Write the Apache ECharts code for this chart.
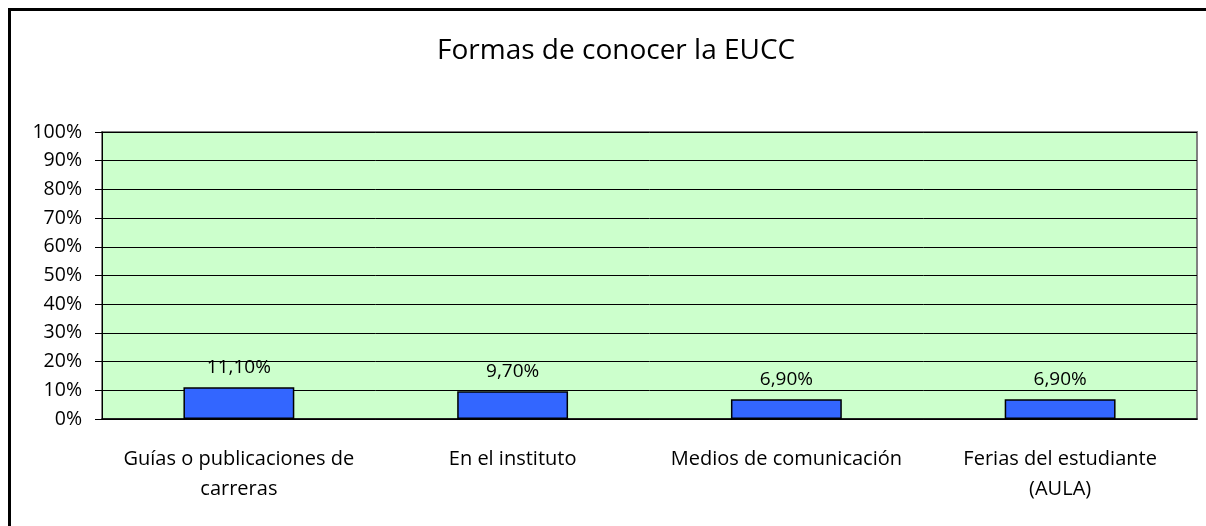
<!DOCTYPE html>
<html>
<head>
<meta charset="utf-8">
<script src="https://cdn.jsdelivr.net/npm/echarts@6/dist/echarts.min.js"></script>
<style>
  html, body { margin: 0; padding: 0; background: #fff; }
  #chart { width: 1206px; height: 526px; }
</style>
</head>
<body>
<div id="chart"></div>
<script>
// chart data
const categories = ['Guías o publicaciones de\ncarreras', 'En el instituto', 'Medios de comunicación', 'Ferias del estudiante\n(AULA)'];
const values = [11.1, 9.7, 6.9, 6.9];
const yTicks = [0, 10, 20, 30, 40, 50, 60, 70, 80, 90, 100];

const font = '"Open Sans", "Liberation Sans", sans-serif';
const chart = echarts.init(document.getElementById('chart'));

chart.setOption({
    animation: false,
    backgroundColor: '#fff',
    title: {
        text: 'Formas de conocer la EUCC',
        left: 432,
        top: 32,
        textStyle: { fontFamily: font, fontSize: 28, fontWeight: 'normal', color: '#000' }
    },
    graphic: [{
        // outer chart frame, only top and left edges are in view
        type: 'rect',
        left: 7, top: 7,
        shape: { width: 1260, height: 580 },
        style: { fill: 'none', stroke: '#000', lineWidth: 3 },
        silent: true
    }],
    grid: {
        left: 102,
        right: 9,
        top: 132,
        bottom: 107,
        show: true,
        backgroundColor: '#CCFFCC',
        borderColor: '#808080',
        borderWidth: 2
    },
    xAxis: {
        type: 'category',
        data: categories,
        axisLine: { lineStyle: { color: '#000', width: 1.5 } },
        axisTick: { length: 7, lineStyle: { color: '#000' } },
        axisLabel: {
            margin: 25,
            interval: 0,
            fontFamily: font,
            fontSize: 20,
            lineHeight: 30,
            color: '#000'
        }
    },
    yAxis: {
        type: 'value',
        min: yTicks[0],
        max: yTicks[yTicks.length - 1],
        interval: 10,
        axisLine: { show: true, lineStyle: { color: '#000', width: 1 } },
        axisTick: { show: true, length: 7, lineStyle: { color: '#000' } },
        axisLabel: {
            formatter: '{value}%',
            margin: 20,
            fontFamily: font,
            fontSize: 19.5,
            color: '#000'
        },
        splitLine: { lineStyle: { color: '#000', width: 1 } }
    },
    series: [{
        type: 'bar',
        data: values,
        barWidth: '40.5%',
        itemStyle: { color: '#3366FF', borderColor: '#000', borderWidth: 1.5 },
        label: {
            show: true,
            position: 'top',
            distance: 10,
            fontFamily: font,
            fontSize: 19,
            color: '#000',
            formatter: p => p.value.toFixed(2).replace('.', ',') + '%'
        }
    }]
});
</script>
</body>
</html>
